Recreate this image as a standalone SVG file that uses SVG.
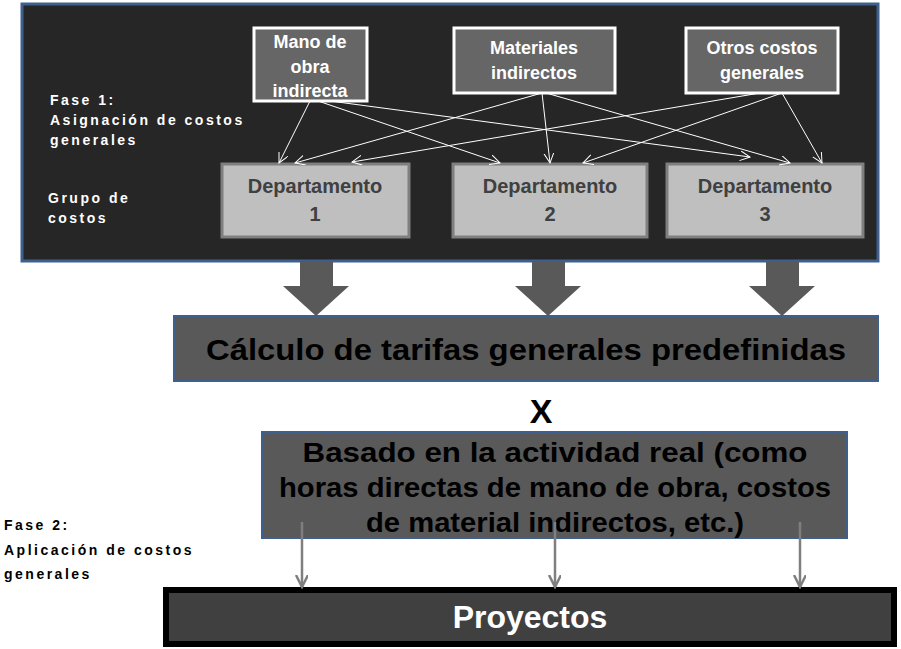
<svg xmlns="http://www.w3.org/2000/svg" width="901" height="649" viewBox="0 0 901 649">
<defs>
<style>
.src{fill:#666;stroke:#fff;stroke-width:3}
.dep{fill:#bfbfbf;stroke:#7f7f7f;stroke-width:3}
.t{font-family:"Liberation Sans",Arial,sans-serif;font-weight:bold;text-anchor:middle}
.lbl{font-family:"Liberation Sans",Arial,sans-serif;font-weight:bold;font-size:14px;letter-spacing:2.5px}
.c{stroke:#fff;stroke-width:1;fill:none;marker-end:url(#a)}
.g{stroke:#7f7f7f;stroke-width:2.5;fill:none;marker-end:url(#b)}
</style>
<marker id="a" markerWidth="12" markerHeight="12" refX="10" refY="5" orient="auto" markerUnits="userSpaceOnUse"><path d="M0,0 L10,5 L0,10" fill="none" stroke="#fff" stroke-width="1"/></marker>
<marker id="b" markerWidth="14" markerHeight="14" refX="12" refY="6" orient="auto" markerUnits="userSpaceOnUse"><path d="M0,0 L12,6 L0,12" fill="none" stroke="#7f7f7f" stroke-width="2.5"/></marker>
</defs>
<rect width="901" height="649" fill="#fff"/>
<g id="fase1">
<rect x="22" y="4" width="856" height="257" fill="#262626" stroke="#3f5f8f" stroke-width="3"/>
<text class="lbl" fill="#fff" x="50" y="105">Fase 1:</text>
<text class="lbl" fill="#fff" x="50" y="125">Asignación  de costos</text>
<text class="lbl" fill="#fff" x="50" y="145">generales</text>
<text class="lbl" fill="#fff" x="48" y="203">Grupo de</text>
<text class="lbl" fill="#fff" x="48" y="223">costos</text>
</g>
<g id="mano"><rect class="src" x="254" y="28" width="113" height="73"/>
<text class="t" fill="#fff" font-size="18" x="310" y="48">Mano de</text><text class="t" fill="#fff" font-size="18" x="310" y="73">obra</text><text class="t" fill="#fff" font-size="18" x="310" y="97">indirecta</text></g>
<g id="materiales"><rect class="src" x="454" y="28" width="161" height="65"/>
<text class="t" fill="#fff" font-size="18" x="534" y="54">Materiales</text><text class="t" fill="#fff" font-size="18" x="534" y="79">indirectos</text></g>
<g id="otros"><rect class="src" x="686" y="28" width="152" height="65"/>
<text class="t" fill="#fff" font-size="18" x="762" y="54">Otros costos</text><text class="t" fill="#fff" font-size="18" x="762" y="79">generales</text></g>
<g id="dep1"><rect class="dep" x="222" y="164" width="187" height="73"/>
<text class="t" fill="#404040" font-size="20" x="315" y="193">Departamento</text><text class="t" fill="#404040" font-size="20" x="315" y="221">1</text></g>
<g id="dep2"><rect class="dep" x="453" y="164" width="194" height="73"/>
<text class="t" fill="#404040" font-size="20" x="550" y="193">Departamento</text><text class="t" fill="#404040" font-size="20" x="550" y="221">2</text></g>
<g id="dep3"><rect class="dep" x="667" y="164" width="196" height="73"/>
<text class="t" fill="#404040" font-size="20" x="765" y="193">Departamento</text><text class="t" fill="#404040" font-size="20" x="765" y="221">3</text></g>
<g id="calc"><rect x="174" y="316" width="704" height="65" fill="#595959" stroke="#3f5f8f" stroke-width="2"/>
<text class="t" fill="#000" font-size="30" x="526" y="360" textLength="640" lengthAdjust="spacingAndGlyphs">Cálculo de tarifas generales predefinidas</text></g>
<text class="t" fill="#000" font-size="34" x="541" y="423">X</text>
<g id="basado"><rect x="262" y="432" width="585" height="106" fill="#595959" stroke="#3f5f8f" stroke-width="2"/>
<text class="t" fill="#000" font-size="27" x="555" y="462" textLength="505" lengthAdjust="spacingAndGlyphs">Basado en la actividad real (como</text>
<text class="t" fill="#000" font-size="27" x="555" y="497" textLength="552" lengthAdjust="spacingAndGlyphs">horas directas de mano de obra, costos</text>
<text class="t" fill="#000" font-size="27" x="555" y="532" textLength="378" lengthAdjust="spacingAndGlyphs">de material indirectos, etc.)</text></g>
<g id="fase2"><text class="lbl" fill="#000" x="4" y="530">Fase 2:</text><text class="lbl" fill="#000" x="4" y="555">Aplicación  de costos</text><text class="lbl" fill="#000" x="4" y="579">generales</text></g>
<g id="proyectos"><rect x="166" y="590" width="728" height="54" fill="#404040" stroke="#000" stroke-width="6"/>
<text class="t" fill="#fff" font-size="32" x="530" y="628">Proyectos</text></g>
<g id="connectors">
<path class="c" d="M310,101 L279,163"/>
<path class="c" d="M318,101 L500,163"/>
<path class="c" d="M330,101 L750,157"/>
<path class="c" d="M542,93 L295,163"/>
<path class="c" d="M542,93 L550,163" stroke-width="2"/>
<path class="c" d="M546,93 L790,163"/>
<path class="c" d="M760,93 L352,162"/>
<path class="c" d="M782,93 L583,163"/>
<path class="c" d="M782,93 L822,163"/>
<path d="M300,261 h33 v25 h16 l-33,30 l-33,-30 h17z" fill="#595959"/>
<path d="M532,261 h33 v25 h16 l-33,30 l-33,-30 h17z" fill="#595959"/>
<path d="M766,261 h33 v25 h16 l-33,30 l-33,-30 h17z" fill="#595959"/>
<path class="g" d="M302,522 V587"/>
<path class="g" d="M555,522 V587"/>
<path class="g" d="M800,522 V587"/>
</g>
</svg>
